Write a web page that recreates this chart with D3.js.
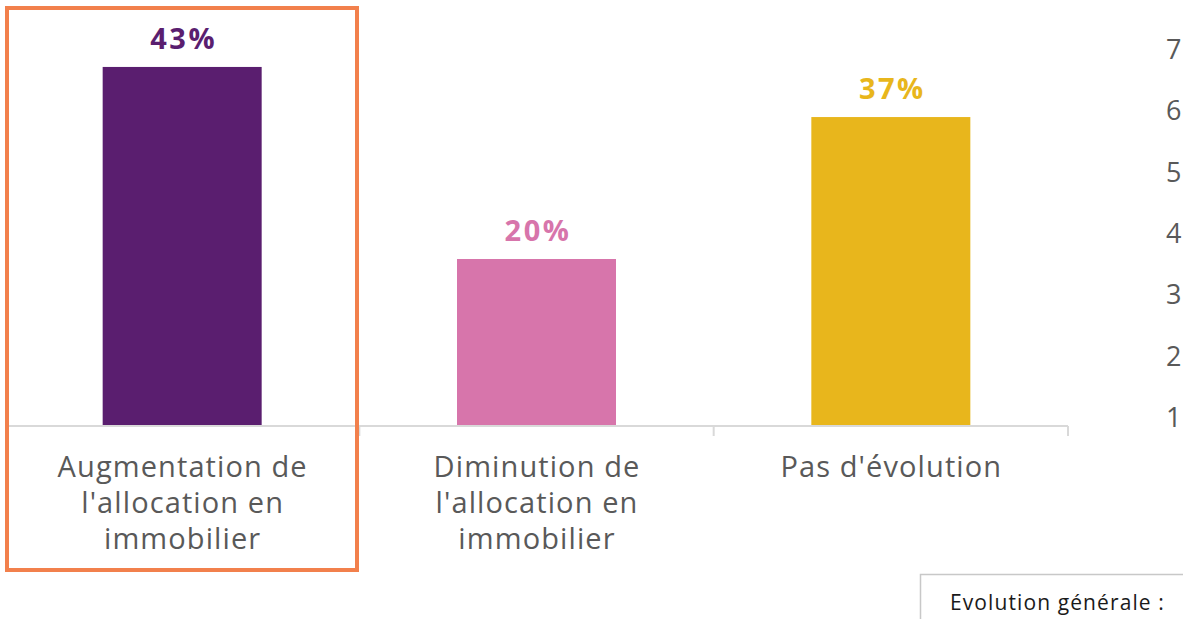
<!DOCTYPE html>
<html>
<head>
<meta charset="utf-8">
<script src="https://cdn.jsdelivr.net/npm/d3@7"></script>
<style>
  body { margin: 0; background: #fff; }
  svg { display: block; font-family: "Open Sans", "DejaVu Sans", sans-serif; }
</style>
</head>
<body>
<div id="chart"></div>
<script>
// datos
const categories = [
  ["Augmentation de", "l'allocation en", "immobilier"],
  ["Diminution de", "l'allocation en", "immobilier"],
  ["Pas d'évolution"]
]
const values = [43, 20, 37]
const colors = ["#5a1e6f", "#d775ab", "#e8b61c"]
const sideTicks = [1, 2, 3, 4, 5, 6, 7]
const boxLabel = "Evolution générale :"

const width = 1183
const height = 619
const margin = { top: 8.5, left: 5, right: 115, bottom: 193 }

const svg = d3.select("div#chart").append("svg").attr("width", width).attr("height", height)

// escalas
const x = d3.scaleBand()
  .domain(d3.range(categories.length))
  .range([margin.left, width - margin.right])
  .paddingInner(0)
  .paddingOuter(0)
const y = d3.scaleLinear().domain([0, 50]).range([height - margin.bottom, margin.top])

const barW = 159

// barras
svg.append("g").selectAll("rect")
  .data(values)
  .join("rect")
  .attr("x", (d, i) => x(i) + x.bandwidth() / 2 - barW / 2)
  .attr("y", d => y(d))
  .attr("width", barW)
  .attr("height", d => y(0) - y(d))
  .attr("fill", (d, i) => colors[i])

// etiquetas de valor
svg.append("g").selectAll("text")
  .data(values)
  .join("text")
  .attr("x", (d, i) => x(i) + x.bandwidth() / 2 + 1.5)
  .attr("y", d => y(d) - 18)
  .attr("text-anchor", "middle")
  .attr("font-size", 29)
  .attr("letter-spacing", 2.5)
  .attr("font-weight", "bold")
  .attr("fill", (d, i) => colors[i])
  .text(d => d + "%")

// eje x
const xAxis = d3.axisBottom(x).tickSize(10).tickFormat("")
const xg = svg.append("g").attr("transform", `translate(0, ${y(0)})`).call(xAxis)
xg.select(".domain").attr("stroke", "#d9d9d9").attr("stroke-width", 2).attr("d", `M${margin.left},0H${width - margin.right}`)
xg.selectAll(".tick line").remove()
// separadores entre categorías
xg.selectAll(".sep")
  .data(d3.range(1, categories.length + 1))
  .join("line")
  .attr("x1", i => x(0) + i * x.bandwidth())
  .attr("x2", i => x(0) + i * x.bandwidth())
  .attr("y1", 0).attr("y2", 10)
  .attr("stroke", "#d9d9d9").attr("stroke-width", 2)

// nombres de categorías
const cat = svg.append("g").selectAll("text")
  .data(categories)
  .join("text")
  .attr("y", 477)
  .attr("text-anchor", "middle")
  .attr("font-size", 29)
  .attr("letter-spacing", 1.1)
  .attr("fill", "#595959")
cat.selectAll("tspan")
  .data((d, i) => d.map(t => ({ t, i })))
  .join("tspan")
  .attr("x", d => x(d.i) + x.bandwidth() / 2 + 0.5)
  .attr("dy", (d, j) => j === 0 ? 0 : 36)
  .text(d => d.t)

// recuadro naranja
svg.append("rect")
  .attr("x", 7).attr("y", 8)
  .attr("width", 350).attr("height", 562)
  .attr("fill", "none")
  .attr("stroke", "#f2804c")
  .attr("stroke-width", 4)

// números de la derecha (otro gráfico cortado)
const ySide = d3.scaleLinear().domain([1, 7]).range([418, 50])
svg.append("g").selectAll("text")
  .data(sideTicks)
  .join("text")
  .attr("x", 1166)
  .attr("y", d => ySide(d) + 9)
  .attr("font-size", 27)
  .attr("fill", "#595959")
  .text(d => d)

// caja inferior
svg.append("rect")
  .attr("x", 920.5).attr("y", 574.5)
  .attr("width", 280).attr("height", 60)
  .attr("fill", "#fff")
  .attr("stroke", "#c8c8c8")
  .attr("stroke-width", 1.5)
svg.append("text")
  .attr("x", 950).attr("y", 610)
  .attr("font-size", 21)
  .attr("letter-spacing", 1.1)
  .attr("fill", "#1a1a1a")
  .text(boxLabel)
</script>
</body>
</html>
